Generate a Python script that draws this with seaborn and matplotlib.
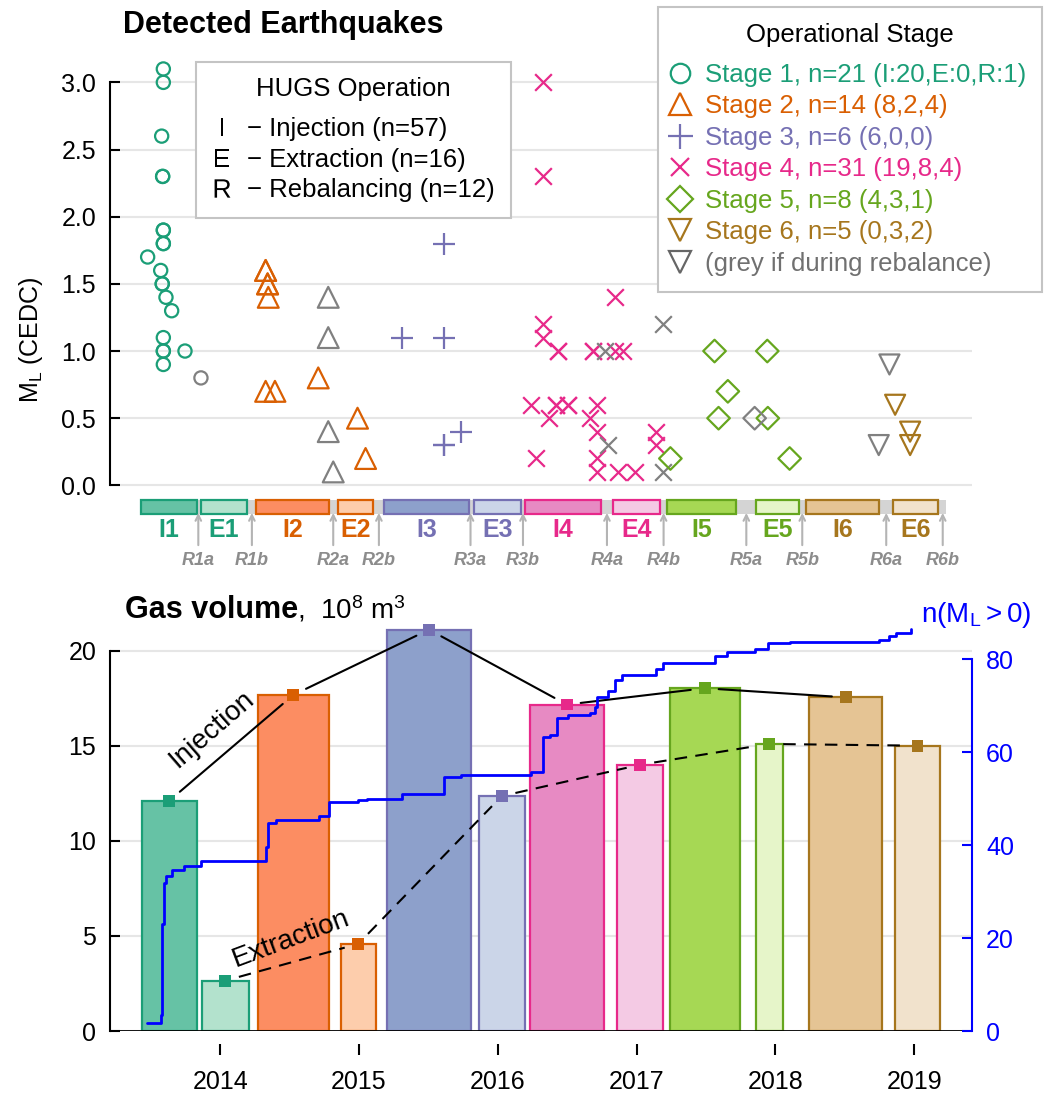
import numpy as np
import pandas as pd
import matplotlib
matplotlib.use("Agg")
import matplotlib.pyplot as plt
from matplotlib.lines import Line2D
from matplotlib.patches import Rectangle
import seaborn as sns

sns.set_style("white")
plt.rcParams['font.family'] = ['Liberation Sans', 'DejaVu Sans']
plt.rcParams['mathtext.fontset'] = 'custom'
plt.rcParams['mathtext.rm'] = 'Liberation Sans'
plt.rcParams['mathtext.it'] = 'Liberation Sans:italic'
plt.rcParams['mathtext.bf'] = 'Liberation Sans:bold'
plt.rcParams['mathtext.sf'] = 'Liberation Sans'
for key in ['text.color', 'axes.labelcolor', 'xtick.color', 'ytick.color']:
    plt.rcParams[key] = 'black'

# ---- earthquakes (decimal year, M_L) per operational stage ----
s1_time = [2013.590, 2013.590, 2013.578, 2013.585, 2013.585, 2013.590, 2013.590, 2013.590, 2013.590, 2013.477,
           2013.571, 2013.582, 2013.582, 2013.609, 2013.650, 2013.590, 2013.590, 2013.590, 2013.746, 2013.590]
s1_ml = [3.1, 3.0, 2.6, 2.3, 2.3, 1.9, 1.9, 1.8, 1.8, 1.7, 1.6, 1.5, 1.5, 1.4, 1.3, 1.1, 1.0, 1.0, 1.0, 0.9]
s2_time = [2014.327, 2014.327, 2014.341, 2014.341, 2014.346, 2014.327, 2014.394, 2014.706, 2014.989, 2015.047]
s2_ml = [1.6, 1.6, 1.5, 1.5, 1.4, 0.7, 0.7, 0.8, 0.5, 0.2]
s3_time = [2015.613, 2015.306, 2015.613, 2015.613, 2015.613, 2015.733]
s3_ml = [1.8, 1.1, 1.1, 0.3, 0.3, 0.4]
s4_time = [2016.325, 2016.325, 2016.842, 2016.325, 2016.325, 2016.433, 2016.433, 2016.685, 2016.685, 2016.842,
           2016.901, 2016.242, 2016.369, 2016.422, 2016.505, 2016.714, 2016.662, 2016.714, 2016.278, 2016.714,
           2016.714, 2016.865, 2016.986, 2017.142, 2017.142, 2016.505, 2016.422]
s4_ml = [3.0, 2.3, 1.4, 1.2, 1.1, 1.0, 1.0, 1.0, 1.0, 1.0, 1.0, 0.6, 0.5, 0.6, 0.6, 0.6, 0.5, 0.4, 0.2, 0.2,
         0.1, 0.1, 0.1, 0.4, 0.3, 0.6, 0.6]
s5_time = [2017.561, 2017.941, 2017.657, 2017.590, 2017.945, 2017.243, 2018.102]
s5_ml = [1.0, 1.0, 0.7, 0.5, 0.5, 0.2, 0.2]
s6_time = [2018.862, 2018.970, 2018.970]
s6_ml = [0.6, 0.4, 0.3]
# events during rebalancing (drawn grey)
rb_time = [2013.861, 2014.778, 2014.778, 2014.778, 2014.814, 2016.770, 2016.793, 2017.189, 2017.189,
           2017.850, 2018.821, 2018.744]
rb_ml = [0.8, 1.4, 1.1, 0.4, 0.1, 1.0, 0.3, 1.2, 0.1, 0.5, 0.9, 0.3]
rb_stage = [1, 2, 2, 2, 2, 4, 4, 4, 4, 5, 6, 6]

# ---- operational periods (stage strip) ----
period_labels = ['I1', 'E1', 'I2', 'E2', 'I3', 'E3', 'I4', 'E4', 'I5', 'E5', 'I6', 'E6']
period_start = [2013.429, 2013.859, 2014.257, 2014.850, 2015.179, 2015.826, 2016.199, 2016.829,
                2017.218, 2017.862, 2018.222, 2018.850]
period_end = [2013.830, 2014.194, 2014.783, 2015.101, 2015.790, 2016.170, 2016.741, 2017.171,
              2017.718, 2018.166, 2018.744, 2019.174]
strip_range = [2013.429, 2019.230]
reb_labels = ['R1a', 'R1b', 'R2a', 'R2b', 'R3a', 'R3b', 'R4a', 'R4b', 'R5a', 'R5b', 'R6a', 'R6b']
reb_time = [2013.842, 2014.228, 2014.814, 2015.143, 2015.803, 2016.181, 2016.786, 2017.194,
            2017.790, 2018.193, 2018.798, 2019.205]

# ---- gas volumes (10^8 m^3) ----
bar_start = [2013.434, 2013.870, 2014.269, 2014.867, 2015.198, 2015.862, 2016.228, 2016.861,
             2017.238, 2017.859, 2018.245, 2018.860]
bar_end = [2013.830, 2014.204, 2014.785, 2015.121, 2015.810, 2016.194, 2016.765, 2017.192,
           2017.742, 2018.051, 2018.769, 2019.187]
volume = [12.1, 2.65, 17.67, 4.58, 21.1, 12.35, 17.16, 14.0, 18.02, 15.09, 17.54, 15.0]

# ---- cumulative count n(ML>0) ----
count_time = [2013.474, 2013.573, 2013.582, 2013.595, 2013.609, 2013.654, 2013.741, 2013.861, 2014.327,
              2014.346, 2014.401, 2014.711, 2014.785, 2014.989, 2015.054, 2015.306, 2015.613, 2015.735,
              2016.242, 2016.325, 2016.374, 2016.429, 2016.505, 2016.662, 2016.698, 2016.714, 2016.793,
              2016.842, 2016.897, 2017.142, 2017.189, 2017.562, 2017.653, 2017.855, 2017.945, 2018.102,
              2018.749, 2018.821, 2018.865, 2018.973]
count_n = [1.7, 3.4, 23, 31.9, 33.3, 34.7, 35.5, 36.5, 39.6, 44.7, 45.3, 46.2, 49.2, 49.8, 50.0, 51.0,
           54.6, 55.0, 55.7, 63.3, 63.8, 67.4, 67.9, 68.5, 69.7, 71.8, 73.2, 75.5, 76.7, 78.0, 79.2,
           80.6, 81.6, 82.1, 83.5, 83.7, 84.2, 85.0, 85.7, 86.4]

years = [2014, 2015, 2016, 2017, 2018, 2019]

stage_labels = ['Stage 1, n=21 (I:20,E:0,R:1)', 'Stage 2, n=14 (8,2,4)', 'Stage 3, n=6 (6,0,0)',
                'Stage 4, n=31 (19,8,4)', 'Stage 5, n=8 (4,3,1)', 'Stage 6, n=5 (0,3,2)']
hugs_letters = ['I', 'E', 'R']
hugs_labels = ['\u2212 Injection (n=57)', '\u2212 Extraction (n=16)', '\u2212 Rebalancing (n=12)']

dark = ['#1b9e77', '#d95f02', '#7570b3', '#e7298a', '#66a61e', '#a6761d']
fill_inj = ['#66c2a5', '#fc8d62', '#8da0cb', '#e78ac3', '#a6d854', '#e5c494']
fill_ext = ['#b3e2cd', '#fdcdac', '#cbd5e8', '#f4cae4', '#e6f5c9', '#f1e2cc']
markers = ['o', '^', '+', 'x', 'D', 'v']
msize = [9.5, 15, 16, 12, 11.5, 14.4]
grey = '#808080'
blue = '#0000ff'

rows = []
for k, (t, m) in enumerate([(s1_time, s1_ml), (s2_time, s2_ml), (s3_time, s3_ml),
                            (s4_time, s4_ml), (s5_time, s5_ml), (s6_time, s6_ml)]):
    rows += [(ti, mi, k + 1, False) for ti, mi in zip(t, m)]
rows += [(ti, mi, s, True) for ti, mi, s in zip(rb_time, rb_ml, rb_stage)]
quakes = pd.DataFrame(rows, columns=['t', 'ml', 'stage', 'rebal'])

xlim = (2013.206, 2019.416)

fig = plt.figure(figsize=(10.57, 10.93), dpi=100)
ax1 = fig.add_axes([0.1041, 0.4822, 0.8155, 0.467])
ax2 = fig.add_axes([0.1041, 0.0567, 0.8155, 0.3742])

# ================= top panel: earthquakes =================
for k in range(6):
    for rebal, col in [(False, dark[k]), (True, grey)]:
        d = quakes[(quakes.stage == k + 1) & (quakes.rebal == rebal)]
        if d.empty:
            continue
        kw = dict(data=d, x='t', y='ml', marker=markers[k], s=msize[k] ** 2, linewidth=1.6,
                  ax=ax1, legend=False, zorder=3)
        if markers[k] in ('+', 'x'):
            sns.scatterplot(color=col, **kw)
        else:
            sns.scatterplot(color=col, facecolor='none', edgecolor=col, **kw)

ax1.set_xlim(*xlim)
ax1.set_ylim(-0.6, 3.2)
ax1.set_yticks(np.arange(0, 3.01, 0.5))
ax1.set_yticklabels([f'{v:.1f}' for v in np.arange(0, 3.01, 0.5)])
ax1.set_xticks([])
ax1.set_xlabel('')
ax1.grid(axis='y', color='#e6e6e6', lw=1.5)
ax1.set_axisbelow(True)
for s in ['top', 'right', 'bottom']:
    ax1.spines[s].set_visible(False)
ax1.spines['left'].set_bounds(0, 3)
ax1.spines['left'].set_color('k')
ax1.spines['left'].set_linewidth(1.5)
ax1.tick_params(axis='y', direction='in', length=7, width=1.5, left=True, pad=10, labelsize=18)
ax1.set_ylabel(r'$\mathrm{M_L}$ (CEDC)', fontsize=18)
ax1.yaxis.set_label_coords(-0.075, 0.443)

# stage strip
ax1.add_patch(Rectangle((strip_range[0], -0.213), strip_range[1] - strip_range[0], 0.104,
                        fc='#d4d4d4', ec='none', zorder=2))
for i, lab in enumerate(period_labels):
    k = i // 2
    fc = fill_inj[k] if i % 2 == 0 else fill_ext[k]
    ax1.add_patch(Rectangle((period_start[i], -0.213), period_end[i] - period_start[i], 0.104,
                            fc=fc, ec=dark[k], lw=1.6, zorder=3))
    ax1.text((period_start[i] + period_end[i]) / 2, -0.333, lab, color=dark[k], fontsize=18,
             weight='bold', ha='center', va='center')
for t, lab in zip(reb_time, reb_labels):
    ax1.annotate('', xy=(t, -0.205), xytext=(t, -0.445),
                 arrowprops=dict(arrowstyle='->', color='#b4b4b4', lw=1.5, shrinkA=0, shrinkB=0))
    ax1.text(t, -0.556, lab, color='#8c8c8c', fontsize=13, style='italic', weight='bold',
             ha='center', va='center')

# ================= bottom panel: gas volume =================
centers = [(a + b) / 2 for a, b in zip(bar_start, bar_end)]
widths = [b - a for a, b in zip(bar_start, bar_end)]
fills = [fill_inj[i // 2] if i % 2 == 0 else fill_ext[i // 2] for i in range(12)]
edges = [dark[i // 2] for i in range(12)]
ax2.bar(centers, volume, width=widths, color=fills, edgecolor=edges, linewidth=1.6, zorder=2)
ax2.axhline(0, color='k', lw=2, zorder=4)
ax2.set_xlim(*xlim)
ax2.set_ylim(0, 21.5)

sns.scatterplot(x=centers, y=volume, hue=period_labels, palette=dict(zip(period_labels, edges)),
                marker='s', s=8.5 ** 2, linewidth=0, legend=False, ax=ax2, zorder=5)


def gapped(ax, xs, ys, gap, **kw):
    pts = ax.transData.transform(np.column_stack([xs, ys]))
    inv = ax.transData.inverted()
    for p0, p1 in zip(pts[:-1], pts[1:]):
        u = (p1 - p0) / np.hypot(*(p1 - p0))
        seg = inv.transform(np.array([p0 + u * gap, p1 - u * gap]))
        ax.plot(seg[:, 0], seg[:, 1], **kw)


gapped(ax2, centers[0::2], volume[0::2], 14, color='k', lw=1.5, zorder=4)
gapped(ax2, centers[1::2], volume[1::2], 14, color='k', lw=1.5, ls=(0, (6, 4)), zorder=4)
ax2.text(2013.94, 15.84, 'Injection', rotation=41, rotation_mode='anchor', ha='center', va='center',
         fontsize=20)
ax2.text(2014.51, 4.84, 'Extraction', rotation=20.5, rotation_mode='anchor', ha='center', va='center',
         fontsize=20)

ax2.set_yticks([0, 5, 10, 15, 20])
ax2.grid(axis='y', color='#e6e6e6', lw=1.5)
ax2.set_axisbelow(True)
ax2.set_xticks(years)
ax2.set_xticklabels([str(y) for y in years])
for s in ['top', 'right']:
    ax2.spines[s].set_visible(False)
ax2.spines['bottom'].set_position(('outward', 17))
ax2.spines['bottom'].set_visible(False)
ax2.spines['left'].set_bounds(0, 20)
ax2.spines['left'].set_color('k')
ax2.spines['left'].set_linewidth(1.5)
ax2.tick_params(axis='y', direction='in', length=7, width=1.5, left=True, pad=10, labelsize=18)
ax2.tick_params(axis='x', direction='in', length=8, width=1.5, bottom=True, pad=11, labelsize=18)

axr = ax2.twinx()
sns.lineplot(x=count_time, y=count_n, ax=axr, color=blue, lw=2, drawstyle='steps-post', zorder=6)
axr.set_ylim(0, 88)
axr.set_yticks([0, 20, 40, 60, 80])
for s in ['top', 'left', 'bottom']:
    axr.spines[s].set_visible(False)
axr.spines['right'].set_bounds(0, 80)
axr.spines['right'].set_color(blue)
axr.spines['right'].set_linewidth(1.5)
axr.tick_params(axis='y', direction='in', length=7, width=1.5, right=True, colors=blue, pad=10,
                labelsize=18)

# ================= titles =================
fig.text(123 / 1057, 1 - 25 / 1093, 'Detected Earthquakes', fontsize=22, weight='bold', va='center')
fig.text(125 / 1057, 1 - 618 / 1093, 'Gas volume', fontsize=22, weight='bold', va='baseline')
fig.text(297 / 1057, 1 - 618 / 1093, r',  10$^8$ m$^3$', fontsize=20, va='baseline')
fig.text(921 / 1057, 1 - 622 / 1093, r'n($\mathrm{M_L} > 0$)', fontsize=20, va='baseline', color=blue)

# ================= legends =================
leg_ms = [14, 16, 18, 12.5, 13, 16, 16]
handles = [Line2D([], [], ls='none', marker=markers[k], ms=leg_ms[k], mfc='none', mec=dark[k],
                  mew=1.6, color=dark[k]) for k in range(6)]
handles.append(Line2D([], [], ls='none', marker='v', ms=leg_ms[6], mfc='none', mec='#666666', mew=1.6))
leg = fig.legend(handles, stage_labels + ['(grey if during rebalance)'], title='Operational Stage',
                 loc='upper right', bbox_to_anchor=(0.9858, 0.9936), borderaxespad=0, fontsize=18.5,
                 title_fontsize=18.5, handlelength=0.47, handletextpad=0.74, labelspacing=0.29,
                 borderpad=0.62, fancybox=False, framealpha=1)
leg._legend_box.sep = 11.5
for txt, c in zip(leg.get_texts(), dark + ['#707070']):
    txt.set_color(c)
leg.get_frame().set_edgecolor('#c4c4c4')
leg.get_frame().set_linewidth(1.5)

hh = [Line2D([], [], ls='none', marker=r'$\mathrm{%s}$' % l, ms=13.2, color='k', mew=0)
      for l in hugs_letters]
leg2 = fig.legend(hh, hugs_labels, title='HUGS Operation', loc='upper left',
                  bbox_to_anchor=(0.1854, 0.9433), borderaxespad=0, fontsize=18.5,
                  title_fontsize=18.5, handlelength=0.8, handletextpad=0.6, labelspacing=0.25,
                  borderpad=0.6, fancybox=False, framealpha=1)
leg2._legend_box.sep = 11.5
leg2.get_frame().set_edgecolor('#c4c4c4')
leg2.get_frame().set_linewidth(1.5)

fig.savefig('out.png', dpi=100)
